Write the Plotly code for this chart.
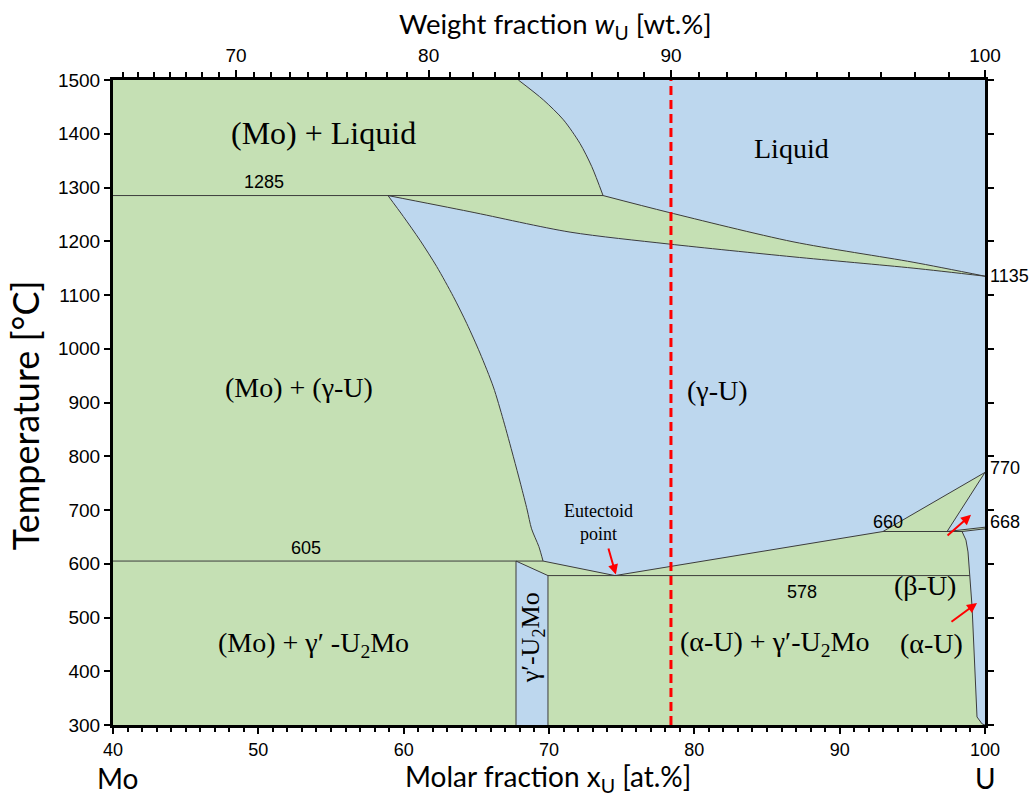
import plotly.graph_objects as go

# ---- Phase boundary data (x in at.% U, T in °C) ----
# (Mo)/(Mo)+L liquidus
liq_mo_x = [67.89, 69.61, 70.99, 72.13, 72.94, 73.72]
liq_mo_t = [1500, 1463, 1426, 1382, 1339, 1285]
# L/(L+γ) liquidus
liq_g_x = [73.72, 78.19, 86.79, 95.05, 100.0]
liq_g_t = [1285, 1254, 1199, 1161, 1135]
# (γ-U) solidus
sol_g_x = [58.92, 64.56, 71.45, 78.19, 86.79, 95.05, 100.0]
sol_g_t = [1285, 1255, 1217, 1195, 1171, 1150, 1135]
# (γ-U)/(Mo)+(γ-U) solvus
solv_x = [58.92, 59.98, 61.12, 62.27, 63.42, 64.34, 65.25, 66.17, 66.86, 67.55, 68.05, 68.50,
          68.80, 69.30, 69.59]
solv_t = [1285, 1246, 1202, 1153, 1097, 1047, 992, 929, 867, 799, 748, 700, 665, 632, 605]
# lower (γ-U) boundary through the eutectoid point
eut_x = [69.59, 74.54, 92.98, 100.0]
eut_t = [605, 578, 660, 770]
# (β-U) region
beta_x = [100.0, 97.39, 100.0]
beta_t = [770, 660, 668]
# (α-U) solvus
alpha_x = [98.42, 98.69, 98.83, 98.97, 99.11, 99.45, 99.66, 99.80, 100.0]
alpha_t = [660, 644, 622, 570, 520, 315, 306, 302, 300]
# γ'-U2Mo phase field
u2mo_left, u2mo_right = 67.73, 69.93
u2mo_top_t = [605, 578]

# invariant lines: (T, x_start, x_end)
invariants = [(1285, 40.0, 73.72), (605, 40.0, 69.59), (578, 69.93, 98.95), (660, 92.98, 98.42)]

# top axis in weight fraction
wt_major = [70, 80, 90, 100]
wt_minor = [w for w in range(63, 100) if w % 10 != 0]
M_U, M_MO = 238.03, 95.95

GREEN = "#C5E0B4"
BLUE = "#BDD7EE"
EDGE = "#3C3C3C"


def wt_to_at(w):
    nu = w / M_U
    nm = (100 - w) / M_MO
    return 100 * nu / (nu + nm)


fig = go.Figure()


def region(xs, ts, color=BLUE):
    fig.add_trace(go.Scatter(x=xs, y=ts, mode="lines", fill="toself", fillcolor=color,
                             line=dict(color=color, width=0), hoverinfo="skip"))


def line(xs, ts, color=EDGE, width=1, dash=None, shape="linear"):
    fig.add_trace(go.Scatter(x=xs, y=ts, mode="lines",
                             line=dict(color=color, width=width, dash=dash, shape=shape,
                                       smoothing=0.8),
                             hoverinfo="skip"))


# Liquid
region(liq_mo_x + liq_g_x[1:] + [100.0, 67.89], liq_mo_t + liq_g_t[1:] + [1500, 1500])
# (γ-U)
region(sol_g_x + [100.0] + eut_x[::-1][1:] + solv_x[::-1][1:],
       sol_g_t + [770] + eut_t[::-1][1:] + solv_t[::-1][1:])
# (β-U)
region(beta_x, beta_t)
# (α-U)
region(alpha_x + [100.0], alpha_t + [665])
# γ'-U2Mo
region([u2mo_left, u2mo_right, u2mo_right, u2mo_left], [u2mo_top_t[0], u2mo_top_t[1], 300, 300])

# curved phase boundaries
for xs, ts in [(liq_mo_x, liq_mo_t), (liq_g_x, liq_g_t), (sol_g_x, sol_g_t), (solv_x, solv_t)]:
    line(xs, ts, shape="spline")
line(alpha_x, alpha_t)
# straight phase boundaries
line(eut_x, eut_t)
line([97.39, 100.0], [660, 770])
line([97.39, 100.0], [660, 668])
line([98.42, 100.0], [660, 665])
line([u2mo_left, u2mo_right], u2mo_top_t)
line([u2mo_left, u2mo_left], [605, 300])
line([u2mo_right, u2mo_right], [578, 300])
for t, xa, xb in invariants:
    line([xa, xb], [t, t])

# 90 wt.% composition line
x90 = wt_to_at(90)
line([x90, x90], [300, 1500], color="#FF0000", width=3, dash="9px,5px")

# dummy traces that carry the secondary axes
fig.add_trace(go.Scatter(x=[40, 100], y=[300, 1500], xaxis="x2", mode="markers",
                         marker=dict(opacity=0), hoverinfo="skip"))
fig.add_trace(go.Scatter(x=[40, 100], y=[300, 1500], yaxis="y2", mode="markers",
                         marker=dict(opacity=0), hoverinfo="skip"))

SERIF = "Liberation Serif, Times New Roman, serif"
SANS = "Liberation Sans, Arial, sans-serif"
NARROW = "Liberation Sans Narrow, Arial Narrow, Liberation Sans, sans-serif"
TITLE = "Lato, Carlito, Calibri, sans-serif"

ann = []
ann.append(dict(x=54.5, y=1401, text="(Mo) + Liquid", showarrow=False,
                font=dict(family=SERIF, size=32, color="black")))
for text, x, y in [("Liquid", 86.7, 1373),
                   ("(Mo) + (γ-U)", 52.8, 927), ("(γ-U)", 81.6, 923),
                   ("(Mo) + γ′ -U<sub>2</sub>Mo", 53.8, 449),
                   ("(α-U) + γ′-U<sub>2</sub>Mo", 85.5, 452),
                   ("(α-U)", 96.35, 451), ("(β-U)", 95.9, 560)]:
    ann.append(dict(x=x, y=y, text=text, showarrow=False,
                    font=dict(family=SERIF, size=28, color="black")))
ann.append(dict(x=68.85, y=462, text="γ′-U<sub>2</sub>Mo", textangle=-90, showarrow=False,
                font=dict(family=SERIF, size=26, color="black")))
ann.append(dict(x=73.4, y=677, text="Eutectoid<br>point", showarrow=False,
                font=dict(family=SERIF, size=18, color="black")))

for text, x, y in [("1285", 50.4, 1310), ("605", 53.3, 630), ("578", 87.4, 548), ("660", 93.3, 678)]:
    ann.append(dict(x=x, y=y, text=text, showarrow=False,
                    font=dict(family=SANS, size=18, color="black")))
for text, t in [("1135", 1135), ("770", 778), ("668", 678)]:
    ann.append(dict(x=1.004, xref="paper", y=t, text=text, showarrow=False, xanchor="left",
                    font=dict(family=SANS, size=18, color="black")))

# red arrows
for (hx, ht), (tx, tt) in [((74.6, 580), (74.06, 631)),
                           ((99.04, 691), (97.32, 650)),
                           ((99.45, 527), (97.59, 490))]:
    ann.append(dict(x=hx, y=ht, ax=tx, ay=tt, axref="x", ayref="y", text="",
                    showarrow=True, arrowhead=2, arrowsize=1, arrowwidth=2,
                    arrowcolor="#FF0000"))

# axis titles and end-member labels
title_font = dict(family=TITLE, size=28, color="black")
ann.append(dict(xref="paper", yref="paper", x=0.499, y=-0.0825, xanchor="center",
                yanchor="middle", text="Molar fraction x<sub>U</sub> [at.%]", showarrow=False,
                font=title_font))
ann.append(dict(xref="paper", yref="paper", x=0.005, y=-0.0825, xanchor="center",
                yanchor="middle", text="Mo", showarrow=False, font=title_font))
ann.append(dict(xref="paper", yref="paper", x=1.0, y=-0.0825, xanchor="center",
                yanchor="middle", text="U", showarrow=False, font=title_font))
ann.append(dict(xref="paper", yref="paper", x=0.507, y=1.085, xanchor="center",
                yanchor="middle", text="Weight fraction <i>w</i><sub>U</sub> [wt.%]",
                showarrow=False, font=dict(family=TITLE, size=27.5, color="black")))
ann.append(dict(xref="paper", yref="paper", x=-0.1, y=0.48, xanchor="center",
                yanchor="middle", textangle=-90, text="Temperature [°C]", showarrow=False,
                font=dict(family=TITLE, size=36, color="black")))

axis_common = dict(showgrid=False, zeroline=False, showline=True, linewidth=3,
                   linecolor="black", ticks="outside", tickcolor="black")

fig.update_layout(
    width=1034, height=796,
    margin=dict(l=113, r=49, t=80, b=71),
    plot_bgcolor=GREEN, paper_bgcolor="white",
    showlegend=False,
    annotations=ann,
    xaxis=dict(range=[40, 100], tickvals=list(range(40, 101, 10)), ticklen=6, tickwidth=2,
               tickfont=dict(family=NARROW, size=18, color="black"),
               minor=dict(dtick=1, ticklen=4, tickwidth=1.5, ticks="outside", tickcolor="black"),
               **axis_common),
    xaxis2=dict(range=[40, 100], overlaying="x", side="top", anchor="y",
                tickmode="array", tickvals=[wt_to_at(w) for w in wt_major],
                ticktext=[str(w) for w in wt_major], ticklen=7, tickwidth=2,
                tickfont=dict(family=NARROW, size=19, color="black"),
                minor=dict(tickmode="array", tickvals=[wt_to_at(w) for w in wt_minor],
                           ticklen=5, tickwidth=1.5, ticks="outside", tickcolor="black"),
                **axis_common),
    yaxis=dict(range=[300, 1500], tickvals=list(range(300, 1501, 100)), ticklen=6, tickwidth=2,
               tickfont=dict(family=SANS, size=19, color="black"), **axis_common),
    yaxis2=dict(range=[300, 1500], overlaying="y", side="right", anchor="x",
                tickvals=list(range(300, 1501, 100)), showticklabels=False,
                ticklen=6, tickwidth=2, **axis_common),
)

fig.write_html("out.html")
